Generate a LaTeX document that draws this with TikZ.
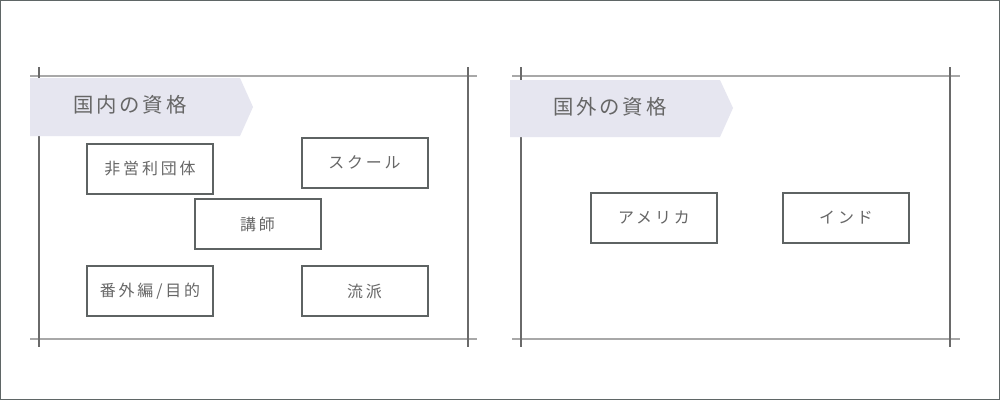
\documentclass[tikz,border=0pt]{standalone}
\usepackage{fontspec}
\newfontfamily\jpbox[LetterSpace=18]{Noto Sans CJK JP}
\newfontfamily\jphead[LetterSpace=14]{Noto Sans CJK JP}
\definecolor{framegray}{HTML}{5F6666}
\definecolor{rulelight}{HTML}{A8A8A8}
\definecolor{ruledark}{HTML}{6A6A6A}
\definecolor{boxgray}{HTML}{5E6363}
\definecolor{textgray}{HTML}{666666}
\definecolor{bannerfill}{HTML}{E6E6F0}

\begin{document}
\begin{tikzpicture}[x=0.3mm,y=-0.3mm,
		box/.style={draw=boxgray,line width=0.6mm,minimum width=37.8mm,minimum height=15mm,
			inner sep=0pt,text=textgray,font=\jpbox\fontsize{13.6}{16}\selectfont},
		head/.style={anchor=west,inner sep=0pt,text=textgray,font=\jphead\fontsize{17.4}{20}\selectfont}]
				\useasboundingbox (0,0) rectangle (1000,400);
				\fill[white] (0,0) rectangle (1000,400);
				\draw[framegray,line width=0.3mm] (0.5,0.5) rectangle (999.5,399.5);
				
				% left panel
				\draw[rulelight,line width=0.45mm] (30,76) -- (477,76);
				\draw[rulelight,line width=0.45mm] (30,339) -- (477,339);
				\draw[ruledark,line width=0.4mm] (39,67) -- (39,347);
				\draw[ruledark,line width=0.4mm] (468,67) -- (468,347);
				\fill[bannerfill] (30,78) -- (240,78) -- (253,107) -- (240,136) -- (30,136) -- cycle;
				\node[head] (domestic) at (73,105) {国内の資格};
				
				\node[box] (npo)     at (150,169)   {非営利団体};
				\node[box] (school)  at (364.5,162.5) {スクール};
				\node[box] (teacher) at (257.5,224) {講師};
				\node[box] (extra)   at (150,291)   {番外編/目的};
				\node[box] (style)   at (364.5,291) {流派};
				
				% right panel
				\draw[rulelight,line width=0.45mm] (512,76) -- (960,76);
				\draw[rulelight,line width=0.45mm] (512,339) -- (960,339);
				\draw[ruledark,line width=0.4mm] (521,67) -- (521,347);
				\draw[ruledark,line width=0.4mm] (950,67) -- (950,347);
				\fill[bannerfill] (510,80) -- (720,80) -- (733,108) -- (720,137) -- (510,137) -- cycle;
				\node[head] (abroad) at (553,107) {国外の資格};
				
				\node[box] (usa)   at (654,218) {アメリカ};
				\node[box] (india) at (846,218) {インド};
			\end{tikzpicture}
\end{document}
